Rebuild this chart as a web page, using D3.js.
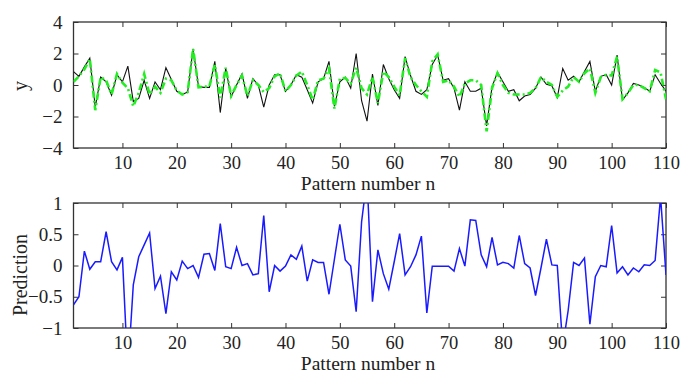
<!DOCTYPE html>
<html>
<head>
<meta charset="utf-8">
<script src="https://cdn.jsdelivr.net/npm/d3@7"></script>
<style>
  body { margin: 0; background: #fff; }
  text { font-family: 'Liberation Serif', 'Times New Roman', serif; fill: #222; }
</style>
</head>
<body>
<div id="chart"></div>
<script>
// measured output y (black), model fit (green dash-dot), prediction (blue)
const actualY = [0.85, 0.55, 1.15, 1.7, -1.4, 0.5, 0.2, -0.65, 0.65, 0.2,
  1.2, -1.05, -0.85, 0.3, -0.85, 0.2, -0.3, 1.1, 0.35, -0.4,
  -0.6, -0.45, 2.3, -0.1, -0.15, -0.15, 1.5, -1.75, 1.05, -0.75,
  0.0, 0.7, -0.85, 0.4, 0.0, -1.4, 0.0, 0.65, 0.65, -0.4,
  0.0, 0.65, 0.5, -0.3, -1.15, 0.2, 0.4, 1.5, -1.35, 0.2,
  0.5, -0.2, 2.0, -1.0, -2.3, 0.7, -1.3, 1.3, 0.4, -0.3,
  -0.85, 1.8, 0.6, -0.4, -0.6, -0.3, 1.3, 1.9, 0.3, 0.4,
  -0.2, -1.6, 0.2, -0.4, -0.4, -0.2, -2.6, -0.1, 0.8, 0.2,
  -0.4, -0.3, -1.0, -0.7, -0.6, -0.2, 0.5, 0.05, -0.05, -0.8,
  1.05, 0.3, 0.55, 0.2, 0.85, 1.5, -0.4, 0.55, 0.65, 0.0,
  1.9, -0.95, -0.5, 0.1, 0.0, -0.15, -0.4, 0.65, 0.1, -0.4];

const fittedY = [0.2, 0.55, 1.0, 1.65, -1.6, 0.5, 0.3, -0.6, 0.7, 0.15,
  -0.2, -1.35, -0.5, 0.7, -0.6, -0.1, -0.5, 0.4, 0.3, -0.35,
  -0.6, -0.45, 2.3, -0.15, -0.1, -0.1, 1.3, -0.8, 1.1, -0.7,
  0.0, 0.6, -0.7, 0.3, 0.0, -0.45, -0.2, 0.55, 0.75, -0.4,
  0.0, 0.6, 0.85, 0.0, -0.95, 0.3, 0.4, 1.05, -1.5, 0.4,
  0.45, 0.1, 1.1, -0.2, -0.6, 0.5, -1.15, 0.85, 0.5, -0.1,
  -0.65, 1.7, 0.5, 0.0, -0.4, -0.75, 1.5, 1.95, 0.2, 0.3,
  -0.1, -0.75, 0.1, 0.3, 0.3, 0.0, -2.95, -0.2, 0.75, 0.0,
  -0.5, -0.6, -0.6, -0.6, -0.5, -0.2, 0.5, 0.2, 0.0, -0.75,
  -0.35, -0.1, 0.5, 0.2, 0.75, 1.05, -0.5, 0.5, 0.65, 0.6,
  1.8, -0.9, -0.5, 0.0, 0.0, -0.2, -0.4, 0.95, 0.8, -0.9];

const prediction = [-0.63, -0.5, 0.23, -0.06, 0.06, 0.06, 0.54, 0.06, -0.07, 0.13,
  -1.7, -0.31, 0.14, 0.33, 0.52, -0.37, -0.17, -0.77, -0.1, -0.23,
  0.07, -0.05, 0.0, -0.19, 0.18, 0.19, -0.08, 0.67, -0.02, -0.05,
  0.29, 0.0, 0.03, -0.15, -0.13, 0.8, -0.42, 0.0, -0.09, -0.01,
  0.17, 0.1, 0.31, -0.25, 0.09, 0.05, 0.05, -0.46, 0.1, 0.66,
  0.09, -0.01, -0.74, 0.7, 1.4, -0.58, 0.25, -0.13, -0.38, 0.06,
  0.51, -0.15, -0.02, 0.17, 0.47, -0.76, -0.01, -0.01, -0.01, -0.01,
  -0.09, 0.27, -0.01, 0.73, 0.72, 0.17, -0.02, 0.45, 0.01, 0.05,
  0.03, -0.04, 0.48, 0.03, -0.04, -0.48, -0.04, 0.42, 0.01, 0.0,
  -1.3, -0.72, 0.05, 0.0, 0.12, -0.94, -0.18, 0.0, -0.02, 0.64,
  -0.12, -0.02, -0.15, -0.04, -0.1, 0.01, 0.0, 0.08, 1.1, -0.15];

const xTicks = [10, 20, 30, 40, 50, 60, 70, 80, 90, 100, 110];
const yTicksTop = [-4, -2, 0, 2, 4];
const yTicksBottom = [-1, -0.5, 0, 0.5, 1];

const width = 697, height = 377;
const svg = d3.select('#chart').append('svg')
  .attr('width', width)
  .attr('height', height);

const n = d3.range(1, actualY.length + 1);

// build one framed panel with inward ticks on all four sides
function panel(id, top, bottom, yDomain, yTicks, yFormat, ylabel, ylabelY) {
  const left = 73.5, right = 666;
  const x = d3.scaleLinear().domain([1, 110]).range([left, right]);
  const y = d3.scaleLinear().domain(yDomain).range([bottom, top]);

  svg.append('clipPath').attr('id', id)
    .append('rect')
    .attr('x', left).attr('y', top)
    .attr('width', right - left).attr('height', bottom - top);

  const g = svg.append('g');

  const tick = 5;
  g.append('g')
    .attr('transform', `translate(0,${bottom})`)
    .call(d3.axisBottom(x).tickValues(xTicks).tickSizeInner(-tick).tickSizeOuter(0).tickPadding(0))
    .call(a => a.select('.domain').remove())
    .call(a => a.selectAll('text').attr('font-size', '18.5px').attr('y', 21).attr('dy', null));
  g.append('g')
    .attr('transform', `translate(0,${top})`)
    .call(d3.axisTop(x).tickValues(xTicks).tickSizeInner(-tick).tickSizeOuter(0).tickFormat(''))
    .call(a => a.select('.domain').remove());
  g.append('g')
    .attr('transform', `translate(${left},0)`)
    .call(d3.axisLeft(y).tickValues(yTicks).tickSizeInner(-tick).tickSizeOuter(0).tickPadding(11).tickFormat(yFormat))
    .call(a => a.select('.domain').remove())
    .call(a => a.selectAll('text').attr('font-size', '19px'));
  g.append('g')
    .attr('transform', `translate(${right},0)`)
    .call(d3.axisRight(y).tickValues(yTicks).tickSizeInner(-tick).tickSizeOuter(0).tickFormat(''))
    .call(a => a.select('.domain').remove());

  g.selectAll('.tick line').attr('stroke', '#333').attr('stroke-width', 1);

  g.append('rect')
    .attr('x', left).attr('y', top)
    .attr('width', right - left).attr('height', bottom - top)
    .attr('fill', 'none')
    .attr('stroke', '#333')
    .attr('stroke-width', 1.3);

  // xlabel
  svg.append('text')
    .attr('x', 368)
    .attr('y', bottom + 42)
    .attr('text-anchor', 'middle')
    .attr('font-size', '19.5px')
    .text('Pattern number n');

  // ylabel
  svg.append('text')
    .attr('transform', `translate(27,${ylabelY}) rotate(-90)`)
    .attr('text-anchor', 'middle')
    .attr('font-size', '20px')
    .text(ylabel);

  return { x, y, g };
}

const p1 = panel('clipTop', 22, 148, [-4, 4], yTicksTop, d3.format('d'), 'y', 86);
const p2 = panel('clipBottom', 203, 328, [-1, 1], yTicksBottom, d => d3.format('')(d), 'Prediction', 275);

const line1 = d3.line().x((d, i) => p1.x(n[i])).y(d => p1.y(d));
const line2 = d3.line().x((d, i) => p2.x(n[i])).y(d => p2.y(d));

svg.append('path')
  .datum(actualY)
  .attr('d', line1)
  .attr('clip-path', 'url(#clipTop)')
  .attr('fill', 'none')
  .attr('stroke', '#111')
  .attr('stroke-width', 1.1);

svg.append('path')
  .datum(fittedY)
  .attr('d', line1)
  .attr('clip-path', 'url(#clipTop)')
  .attr('fill', 'none')
  .attr('stroke', '#22ee22')
  .attr('stroke-width', 2.6)
  .attr('stroke-dasharray', '7,3,2,3');

svg.append('path')
  .datum(prediction)
  .attr('d', line2)
  .attr('clip-path', 'url(#clipBottom)')
  .attr('fill', 'none')
  .attr('stroke', '#1a1aff')
  .attr('stroke-width', 1.5);
</script>
</body>
</html>
